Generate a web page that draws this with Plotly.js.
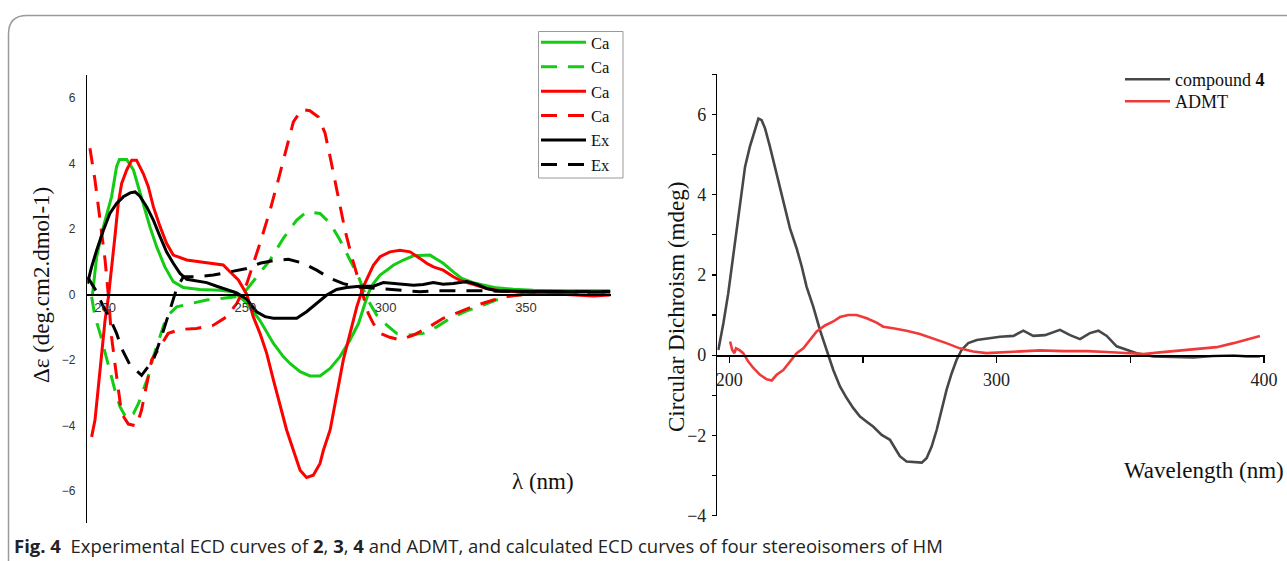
<!DOCTYPE html>
<html>
<head>
<meta charset="utf-8">
<script src="https://cdn.plot.ly/plotly-3.0.1.min.js"></script>
<style>html,body{margin:0;padding:0;background:#fff;}#chart{width:1287px;height:561px;}</style>
</head>
<body>
<div id="chart"></div>
<script>
// ---- Left panel: calculated (Ca) and experimental (Ex) ECD curves ----
const ca1X = [195.5,197.0,199.4,202.3,204.1,205.1,207.7,210.1,212.2,214.2,216.0,218.4,221.3,224.3,227.9,233.8,240.9,245.7,249.3,251.6,255.2,260.0,263.5,265.9,269.5,273.0,276.6,280.2,283.7,287.3,290.3,292.6,293.8,295.6,298.0,300.4,302.7,306.3,309.9,315.8,320.5,324.1,327.1,331.2,336.0,339.5,345.5,352.6,364.5,380.0];
const ca1Y = [0.0,1.15,2.07,2.98,3.90,4.12,4.12,3.80,3.18,2.57,2.06,1.45,0.84,0.39,0.21,0.15,0.13,0.08,-0.17,-0.38,-0.80,-1.50,-1.90,-2.11,-2.36,-2.49,-2.49,-2.26,-1.90,-1.39,-0.89,-0.28,0.03,0.33,0.59,0.74,0.89,1.05,1.18,1.20,0.95,0.69,0.49,0.36,0.28,0.20,0.16,0.13,0.11,0.11];

const ca2X = [195.2,196.4,198.2,200.0,201.7,203.5,205.3,207.7,210.1,211.9,213.6,215.4,217.2,219.6,221.9,225.5,230.3,236.2,242.1,246.9,250.5,254.0,258.8,263.5,268.3,271.8,276.6,280.2,283.7,287.3,290.3,292.6,294.4,296.8,300.4,303.9,308.7,313.4,318.2,322.9,328.9,334.8,339.5,344.3,350.2,358.6,370.0,380.0];
const ca2Y = [-0.07,-0.68,-1.19,-1.80,-2.31,-2.92,-3.43,-3.79,-3.64,-3.33,-2.92,-2.51,-1.90,-1.29,-0.68,-0.38,-0.28,-0.17,-0.12,-0.07,0.15,0.54,1.05,1.71,2.27,2.52,2.47,2.17,1.66,1.05,0.54,0.03,-0.28,-0.63,-0.94,-1.19,-1.24,-1.19,-0.99,-0.73,-0.50,-0.33,-0.17,-0.05,0.01,0.03,0.05,0.05];

const ca3X = [195.2,196.4,197.6,198.8,200.0,201.2,202.3,203.5,204.7,205.9,207.7,209.5,211.2,213.6,215.4,217.2,219.6,221.9,224.3,229.1,236.2,242.1,244.5,247.5,250.5,252.8,255.2,257.6,260.0,262.3,264.7,267.1,269.5,271.8,274.2,276.6,277.8,280.2,282.5,284.9,287.3,289.7,292.0,293.8,295.6,298.0,301.5,305.1,308.7,312.2,314.6,317.0,320.5,324.1,327.1,331.2,336.0,340.7,352.6,364.5,374.0,380.0];
const ca3Y = [-4.35,-3.84,-2.82,-1.80,-0.78,-0.07,0.74,1.76,2.78,3.39,3.80,4.10,4.10,3.69,3.29,2.68,2.07,1.56,1.20,1.05,0.97,0.90,0.69,0.44,0.0,-0.68,-1.19,-1.80,-2.62,-3.33,-4.14,-4.76,-5.37,-5.59,-5.52,-5.16,-4.76,-4.14,-3.12,-2.00,-1.19,-0.38,0.23,0.54,0.89,1.15,1.30,1.35,1.30,1.10,0.95,0.84,0.74,0.54,0.41,0.31,0.18,0.11,0.05,-0.02,-0.05,-0.02];

const ca4X = [194.6,196.4,198.2,200.0,201.2,202.3,203.5,204.7,205.9,208.3,211.2,213.0,214.8,216.6,219.6,222.5,226.7,232.6,238.6,243.4,246.9,250.5,255.2,258.8,261.7,264.7,267.1,270.1,273.0,276.0,278.4,280.2,281.9,283.7,285.5,287.9,290.3,292.0,293.8,295.6,298.0,301.5,305.1,309.9,314.6,320.5,326.5,332.4,338.4,344.3,350.2,364.5,380.0];
const ca4Y = [4.46,3.49,2.27,1.05,-0.07,-1.29,-2.11,-2.92,-3.64,-3.96,-4.02,-3.53,-2.72,-2.00,-1.60,-1.19,-1.07,-1.04,-0.94,-0.68,-0.28,0.33,1.56,2.57,3.49,4.51,5.27,5.65,5.61,5.42,4.92,4.20,3.49,2.68,1.96,1.15,0.44,-0.07,-0.58,-0.89,-1.19,-1.31,-1.39,-1.24,-1.04,-0.73,-0.53,-0.33,-0.17,-0.05,0.0,0.01,-0.02];

const ex1X = [193.7,195.2,197.0,199.4,201.7,204.1,206.5,208.9,210.7,212.4,214.8,217.2,219.6,221.9,224.3,226.7,229.1,232.6,236.2,239.8,243.4,246.9,250.5,254.0,257.0,260.0,264.7,268.3,271.8,275.4,279.0,282.5,286.1,290.8,295.6,299.2,303.9,309.9,313.4,317.0,320.5,324.1,328.9,332.4,336.0,339.5,346.7,358.6,370.4,380.0];
const ex1Y = [0.33,0.84,1.35,1.96,2.47,2.78,2.98,3.10,3.13,3.00,2.68,2.27,1.76,1.30,0.95,0.64,0.46,0.42,0.36,0.25,0.15,0.05,-0.15,-0.53,-0.68,-0.73,-0.73,-0.73,-0.53,-0.28,-0.02,0.15,0.21,0.25,0.25,0.36,0.33,0.28,0.30,0.36,0.31,0.33,0.39,0.31,0.18,0.11,0.10,0.08,0.08,0.08];

const ex2X = [193.7,195.2,197.0,199.4,201.7,204.1,205.9,208.9,213.0,217.2,220.1,223.1,225.5,227.9,232.6,238.6,244.5,250.5,255.2,260.0,265.3,270.7,275.4,280.2,284.9,289.7,293.2,298.0,302.7,307.5,312.2,317.0,324.1,328.9,334.8,340.7,350.0,365.0,380.0];
const ex2Y = [0.54,0.33,0.08,-0.38,-0.73,-1.19,-1.65,-2.16,-2.47,-2.00,-1.29,-0.48,0.18,0.54,0.54,0.59,0.69,0.79,0.95,1.03,1.07,0.95,0.74,0.49,0.33,0.23,0.21,0.18,0.13,0.11,0.08,0.11,0.11,0.13,0.11,0.10,0.08,0.08,0.08];

const leftNames = ["Ca","Ca","Ca","Ca","Ex","Ex"];
const leftXTicks = [200,250,300,350];
const leftYTicks = [-6,-4,-2,0,2,4,6];

// ---- Right panel: compound 4 and ADMT ----
const cmp4X = [195.9,197.8,199.6,201.5,203.4,204.6,205.9,207.7,209.6,210.9,212.1,213.4,215.2,217.1,219.0,220.8,222.7,225.2,227.1,228.9,231.4,233.9,236.4,238.9,241.4,243.9,246.4,248.9,251.4,253.8,257.0,260.1,262.0,263.8,266.3,269.5,272.0,273.8,275.7,277.6,279.4,281.3,283.2,285.0,286.9,289.4,292.6,296.3,301.3,306.3,310.0,313.7,318.1,323.7,327.5,331.2,334.9,338.1,341.2,344.9,348.7,352.4,358.6,366.1,373.6,381.1,388.6,393.5,398.5];
const cmp4Y = [0.13,0.80,1.54,2.46,3.37,4.03,4.70,5.20,5.65,5.90,5.86,5.65,5.20,4.70,4.20,3.66,3.16,2.66,2.21,1.71,1.21,0.63,0.13,-0.37,-0.78,-1.07,-1.32,-1.53,-1.66,-1.78,-1.99,-2.11,-2.32,-2.52,-2.65,-2.67,-2.68,-2.57,-2.28,-1.86,-1.36,-0.86,-0.45,-0.12,0.13,0.30,0.38,0.42,0.46,0.48,0.61,0.48,0.50,0.63,0.50,0.40,0.55,0.61,0.48,0.22,0.13,0.05,-0.03,-0.05,-0.06,-0.02,-0.01,-0.03,-0.03];

const admtX = [200.3,201.1,201.9,202.5,203.7,205.2,207.1,209.0,211.5,214.0,215.9,217.7,220.2,222.7,225.2,227.7,230.2,232.7,235.8,238.9,241.4,244.5,247.6,251.4,255.1,257.6,261.3,266.3,271.3,276.3,281.2,286.2,291.2,296.2,301.3,308.8,316.2,325.0,333.7,341.2,348.7,354.9,361.1,368.6,376.1,382.3,388.6,393.5,398.5];
const admtY = [0.34,0.13,0.05,0.17,0.13,0.05,-0.16,-0.32,-0.49,-0.60,-0.63,-0.49,-0.37,-0.16,0.05,0.17,0.38,0.59,0.74,0.84,0.95,1.00,1.00,0.92,0.81,0.71,0.67,0.61,0.53,0.42,0.30,0.17,0.09,0.05,0.07,0.09,0.12,0.10,0.10,0.08,0.05,0.03,0.07,0.12,0.16,0.20,0.30,0.38,0.48];

const rightNames = ["compound <b>4</b>", "ADMT"];
const rightXTicks = [200,300,400];
const rightXMinor = [250,350];
const rightYTicks = [-4,-2,0,2,4,6];
const rightYMinor = [-3,-1,1,3,5,7];

const caption = "<b>Fig. 4</b>\u00a0\u00a0Experimental ECD curves of <b>2</b>, <b>3</b>, <b>4</b> and ADMT, and calculated ECD curves of four stereoisomers of HM";

// ---- layout helpers (pixel -> paper, margins are zero) ----
const W = 1287, H = 561;
const px = v => v / W;
const py = v => 1 - v / H;

const SERIF = "Liberation Serif, Times New Roman, serif";
const SANS = "Liberation Sans, Arial, sans-serif";
const DASH = "16px,11px";

const green = "#14cc14", red = "#ff0000", black = "#000000";

function lt(x, y, name, color, dash) {
  return {x: x, y: y, name: name, type: "scatter", mode: "lines",
    line: {color: color, width: 3, dash: dash}, xaxis: "x", yaxis: "y", legend: "legend"};
}

const traces = [
  lt(ca1X, ca1Y, leftNames[0], green, "solid"),
  lt(ca2X, ca2Y, leftNames[1], green, DASH),
  lt(ca3X, ca3Y, leftNames[2], red, "solid"),
  lt(ca4X, ca4Y, leftNames[3], red, DASH),
  lt(ex1X, ex1Y, leftNames[4], black, "solid"),
  lt(ex2X, ex2Y, leftNames[5], black, DASH),
  {x: cmp4X, y: cmp4Y, name: rightNames[0], type: "scatter", mode: "lines",
    line: {color: "#474747", width: 2.6}, xaxis: "x2", yaxis: "y2", legend: "legend2"},
  {x: admtX, y: admtY, name: rightNames[1], type: "scatter", mode: "lines",
    line: {color: "#f03a3a", width: 2.6}, xaxis: "x2", yaxis: "y2", legend: "legend3"}
];

const L = {x0: 87.3, x1: 611, y0: 75, y1: 523.3, zero: 294.3};
const R = {x0: 717.3, x1: 1264.5, y0: 74, y1: 516, zero: 355.3};

function rightLegend(ytop) {
  return {
    x: px(1120), y: py(ytop), xanchor: "left", yanchor: "top",
    bgcolor: "rgba(0,0,0,0)", borderwidth: 0,
    font: {family: SERIF, size: 18, color: "#111"},
    itemwidth: 45, tracegroupgap: 0
  };
}

const layout = {
  width: W, height: H,
  margin: {l: 0, r: 0, t: 0, b: 0, pad: 0},
  paper_bgcolor: "#ffffff", plot_bgcolor: "rgba(0,0,0,0)",
  showlegend: true,
  xaxis: {
    domain: [px(L.x0), px(L.x1)], range: [193.66, 380.3],
    anchor: "free", position: py(L.zero),
    showline: true, linecolor: "#000", linewidth: 1.5,
    showgrid: false, zeroline: false, ticks: "",
    tickmode: "array", tickvals: leftXTicks,
    tickfont: {family: SANS, size: 13, color: "#333"},
    ticklabelstandoff: 1
  },
  yaxis: {
    domain: [py(L.y1), py(L.y0)], range: [-6.99, 6.70], anchor: "x",
    showline: true, linecolor: "#000", linewidth: 1.5,
    showgrid: false, zeroline: false, ticks: "",
    tickmode: "array", tickvals: leftYTicks,
    tickfont: {family: SANS, size: 12, color: "#333"},
    ticklabelstandoff: 8
  },
  xaxis2: {
    domain: [px(R.x0), px(R.x1)], range: [195.51, 400.22],
    anchor: "free", position: py(R.zero),
    showline: true, linecolor: "#000", linewidth: 1.4,
    showgrid: false, zeroline: false,
    ticks: "outside", ticklen: 6, tickwidth: 1.2, tickcolor: "#000",
    tickmode: "array", tickvals: rightXTicks,
    minor: {tickmode: "array", tickvals: rightXMinor, ticks: "outside", ticklen: 6, tickwidth: 1.2, tickcolor: "#000"},
    tickfont: {family: SERIF, size: 18, color: "#222"},
    ticklabelstandoff: 2
  },
  yaxis2: {
    domain: [py(R.y1), py(R.y0)], range: [-4.01, 7.01], anchor: "x2",
    showline: true, linecolor: "#000", linewidth: 1.4,
    showgrid: false, zeroline: false,
    ticks: "outside", ticklen: 4, tickwidth: 1.2, tickcolor: "#000",
    tickmode: "array", tickvals: rightYTicks,
    minor: {tickmode: "array", tickvals: rightYMinor, ticks: "outside", ticklen: 4, tickwidth: 1.2, tickcolor: "#000"},
    tickfont: {family: SERIF, size: 18, color: "#222"},
    ticklabelstandoff: 2
  },
  legend: {
    x: px(536), y: py(25), xanchor: "left", yanchor: "top",
    bgcolor: "rgba(0,0,0,0)", borderwidth: 0,
    font: {family: SERIF, size: 16.5, color: "#111"},
    itemwidth: 45, tracegroupgap: 0, traceorder: "normal"
  },
  legend2: rightLegend(61),
  legend3: rightLegend(83),
  shapes: [
    {type: "path", xref: "paper", yref: "paper",
      path: `M ${px(8.5)},-0.02 L ${px(8.5)},${py(34)} Q ${px(8.5)},${py(15.5)} ${px(27)},${py(15.5)} L 1.02,${py(15.5)}`,
      line: {color: "#9a9a9a", width: 1.5}},
    {type: "rect", xref: "paper", yref: "paper",
      x0: px(538.5), x1: px(623), y0: py(178), y1: py(31.5),
      line: {color: "#999", width: 1}}
  ],
  annotations: [
    {text: "Δε (deg.cm2.dmol-1)", xref: "paper", yref: "paper", x: px(41), y: py(285),
      textangle: -90, showarrow: false, xanchor: "center", yanchor: "middle",
      font: {family: SERIF, size: 23, color: "#111"}},
    {text: "λ (nm)", xref: "paper", yref: "paper", x: px(543), y: py(481),
      showarrow: false, xanchor: "center", yanchor: "middle",
      font: {family: SERIF, size: 23, color: "#111"}},
    {text: "Circular Dichroism (mdeg)", xref: "paper", yref: "paper", x: px(676), y: py(307),
      textangle: -90, showarrow: false, xanchor: "center", yanchor: "middle",
      font: {family: SERIF, size: 23, color: "#111"}},
    {text: "Wavelength (nm)", xref: "paper", yref: "paper", x: px(1122), y: py(470),
      showarrow: false, xanchor: "left", yanchor: "middle",
      font: {family: SERIF, size: 23, color: "#111"}},
    {text: caption, xref: "paper", yref: "paper", x: px(12), y: py(545),
      showarrow: false, xanchor: "left", yanchor: "middle",
      font: {family: "Open Sans, Noto Sans, sans-serif", size: 18.5, color: "#222"}}
  ]
};

Plotly.newPlot("chart", traces, layout, {displayModeBar: false, staticPlot: true});
</script>
</body>
</html>
